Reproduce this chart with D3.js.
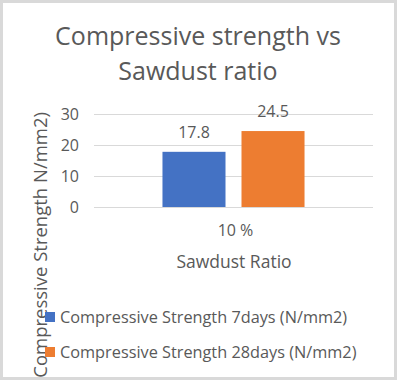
<!DOCTYPE html>
<html>
<head>
<meta charset="utf-8">
<script src="https://cdn.jsdelivr.net/npm/d3@7"></script>
<style>
  body { margin: 0; background: #ffffff; }
  text { font-family: "Open Sans", sans-serif; fill: #595959; }
</style>
</head>
<body>
<div id="chart"></div>
<script>
// Chart data
var categories = ["10 %"];
var seriesNames = ["Compressive Strength 7days (N/mm2)", "Compressive Strength 28days (N/mm2)"];
var strength7days = [17.8];
var strength28days = [24.5];
var yTicks = [0, 10, 20, 30];
var colors = ["#4472C4", "#ED7D31"];

var svgWidth = 397;
var svgHeight = 380;

// Plot area
var plot = { left: 94, right: 373, top: 114, bottom: 207 };

var svg = d3.select('#chart')
    .append('svg')
    .attr('width', svgWidth)
    .attr('height', svgHeight);

// White chart background
svg.append('rect')
    .attr('width', svgWidth)
    .attr('height', svgHeight)
    .attr('fill', '#ffffff');

// Scales
var xScale = d3.scaleBand()
    .domain(categories)
    .range([plot.left, plot.right])
    .paddingInner(0)
    .paddingOuter(0.482);

var xSeries = d3.scaleBand()
    .domain(seriesNames)
    .range([0, xScale.bandwidth()])
    .paddingInner(0.2025);

var yScale = d3.scaleLinear()
    .domain([0, 30])
    .range([plot.bottom, plot.top]);

// Title
var title = svg.append('text')
    .attr('text-anchor', 'middle')
    .style('font-size', '25px');
title.append('tspan').attr('x', 198).attr('y', 45).text('Compressive strength vs');
title.append('tspan').attr('x', 198).attr('y', 80).text('Sawdust ratio');

// Gridlines
svg.append('g')
    .selectAll('line')
    .data(yTicks)
    .enter()
    .append('line')
    .attr('x1', plot.left)
    .attr('x2', plot.right)
    .attr('y1', d => Math.round(yScale(d)) + 0.5)
    .attr('y2', d => Math.round(yScale(d)) + 0.5)
    .attr('stroke', '#d9d9d9')
    .attr('stroke-width', 1);

// Left axis (labels only)
var leftAxis = d3.axisLeft(yScale)
    .tickValues(yTicks)
    .tickSize(0)
    .tickPadding(15);

var yAxisGroup = svg.append('g')
    .attr('transform', `translate(${plot.left}, 0)`)
    .call(leftAxis);
yAxisGroup.select('.domain').remove();
yAxisGroup.selectAll('text')
    .attr('fill', '#595959')
    .style('font-family', '"Open Sans", sans-serif')
    .style('font-size', '16px');

// Bottom axis (category label)
var bottomAxis = d3.axisBottom(xScale)
    .tickSize(0)
    .tickPadding(18);

var xAxisGroup = svg.append('g')
    .attr('transform', `translate(0, ${plot.bottom})`)
    .call(bottomAxis);
xAxisGroup.select('.domain').remove();
xAxisGroup.selectAll('text')
    .attr('fill', '#595959')
    .attr('dx', 2)
    .style('font-family', '"Open Sans", sans-serif')
    .style('font-size', '16px');

// Bars
var barData = categories.map(function(c, i) {
    return [
        { cat: c, name: seriesNames[0], value: strength7days[i], color: colors[0] },
        { cat: c, name: seriesNames[1], value: strength28days[i], color: colors[1] }
    ];
});

var groups = svg.append('g')
    .selectAll('g')
    .data(barData)
    .enter()
    .append('g')
    .attr('transform', d => `translate(${xScale(d[0].cat)}, 0)`);

groups.selectAll('rect')
    .data(d => d)
    .enter()
    .append('rect')
    .attr('x', d => xSeries(d.name))
    .attr('y', d => yScale(d.value))
    .attr('width', xSeries.bandwidth())
    .attr('height', d => yScale(0) - yScale(d.value))
    .attr('fill', d => d.color);

// Data labels
groups.selectAll('text.value')
    .data(d => d)
    .enter()
    .append('text')
    .attr('class', 'value')
    .attr('x', d => xSeries(d.name) + xSeries.bandwidth() / 2)
    .attr('y', d => yScale(d.value) - 14)
    .attr('text-anchor', 'middle')
    .style('font-size', '16px')
    .text(d => d.value);

// X axis title
svg.append('text')
    .attr('x', 234)
    .attr('y', 268)
    .attr('text-anchor', 'middle')
    .style('font-size', '17.5px')
    .text('Sawdust Ratio');

// Y axis title
svg.append('text')
    .attr('transform', 'translate(47, 112) rotate(-90)')
    .attr('text-anchor', 'end')
    .style('font-size', '18.5px')
    .text('Compressive Strength N/mm2)');

// Legend
var legend = svg.append('g')
    .selectAll('g')
    .data(seriesNames)
    .enter()
    .append('g')
    .attr('transform', (d, i) => `translate(45, ${312 + i * 35})`);

legend.append('rect')
    .attr('width', 10)
    .attr('height', 10)
    .attr('fill', (d, i) => colors[i]);

legend.append('text')
    .attr('x', 15)
    .attr('y', 11)
    .style('font-size', '16.3px')
    .text(d => d);

// Grey frame around the chart
svg.append('rect')
    .attr('width', svgWidth)
    .attr('height', svgHeight)
    .attr('fill', 'none')
    .attr('stroke', '#d9d9d9')
    .attr('stroke-width', 6);
</script>
</body>
</html>
